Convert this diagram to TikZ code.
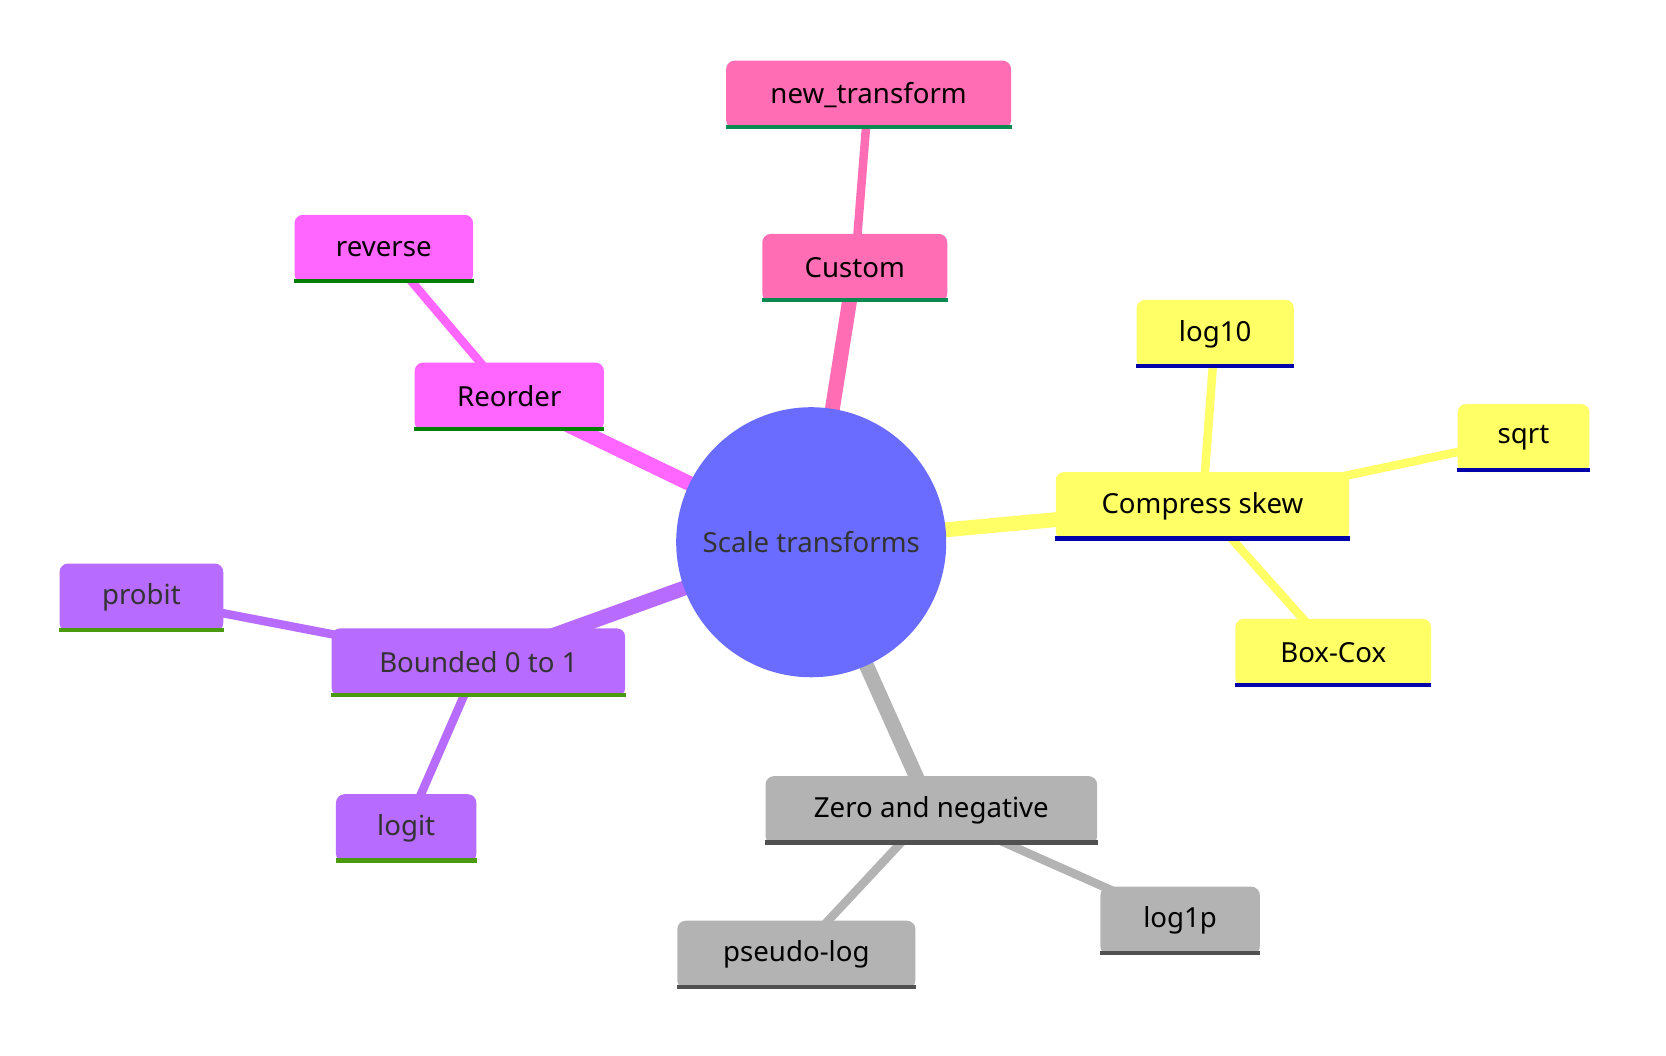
\documentclass[tikz,border=0pt]{standalone}
\usepackage{fontspec}
\setmainfont{Noto Sans}
\definecolor{rootc}{HTML}{6A6CFF}
\definecolor{custc}{HTML}{FF6EB4}
\definecolor{custl}{HTML}{0A8A50}
\definecolor{reoc}{HTML}{FF66FF}
\definecolor{reol}{HTML}{008000}
\definecolor{skewc}{HTML}{FFFF66}
\definecolor{skewl}{HTML}{0000AA}
\definecolor{zeroc}{HTML}{B3B3B3}
\definecolor{zerol}{HTML}{505050}
\definecolor{bndc}{HTML}{B86BFF}
\definecolor{bndl}{HTML}{4A9A10}
\definecolor{txt}{HTML}{333333}
\tikzset{
  box/.style={rectangle, rounded corners=4pt, minimum height=32pt, inner sep=0pt, font=\fontsize{13}{15}\selectfont},
  edge/.style={line width=7pt},
  twig/.style={line width=4pt},
}
\begin{document}
\begin{tikzpicture}[x=0.5pt,y=-0.5pt]
  \useasboundingbox (0,0) rectangle (1567,993);

  % node positions
  \coordinate (r) at (763,510);
  \coordinate (cu) at (804,252);
  \coordinate (nt) at (817,89);
  \coordinate (ro) at (479,373);
  \coordinate (rv) at (361,234);
  \coordinate (cs) at (1131,476);
  \coordinate (lg) at (1143,314);
  \coordinate (sq) at (1433,412);
  \coordinate (bc) at (1254,614);
  \coordinate (zn) at (876,762);
  \coordinate (pl) at (749,898);
  \coordinate (lp) at (1110,866);
  \coordinate (bd) at (450,623);
  \coordinate (pb) at (133,562);
  \coordinate (lt) at (382,779);

  % connectors
  \draw[edge, custc] (r) -- (cu);
  \draw[edge, reoc] (r) -- (ro);
  \draw[edge, skewc] (r) -- (cs);
  \draw[edge, zeroc] (r) -- (zn);
  \draw[edge, bndc] (r) -- (bd);
  \draw[twig, custc] (cu) -- (nt);
  \draw[twig, reoc] (ro) -- (rv);
  \draw[twig, skewc] (cs) -- (lg);
  \draw[twig, skewc] (cs) -- (sq);
  \draw[twig, skewc] (cs) -- (bc);
  \draw[twig, zeroc] (zn) -- (pl);
  \draw[twig, zeroc] (zn) -- (lp);
  \draw[twig, bndc] (bd) -- (pb);
  \draw[twig, bndc] (bd) -- (lt);

  \node[circle, fill=rootc, minimum size=127pt, text=txt, font=\fontsize{13}{15}\selectfont] (root) at (r) {Scale transforms};

  \foreach \p/\w/\f/\l/\t/\c in {
      cu/87/custc/custl/Custom/black, nt/134/custc/custl/new\_transform/black,
      ro/89/reoc/reol/Reorder/black, rv/84/reoc/reol/reverse/black,
      cs/138/skewc/skewl/Compress skew/black, lg/74/skewc/skewl/log10/black,
      sq/62/skewc/skewl/sqrt/black, bc/92/skewc/skewl/Box-Cox/black,
      zn/156/zeroc/zerol/Zero and negative/black, pl/112/zeroc/zerol/pseudo-log/black,
      lp/75/zeroc/zerol/log1p/black,
      bd/138/bndc/bndl/Bounded 0 to 1/txt, pb/77/bndc/bndl/probit/txt,
      lt/66/bndc/bndl/logit/txt} {
    \node[box, fill=\f, text=\c, minimum width=\w pt] (n-\p) at (\p) {\t};
    \draw[\l, line width=2pt] ([yshift=1pt]n-\p.south west) -- ([yshift=1pt]n-\p.south east);
  }
\end{tikzpicture}
\end{document}
